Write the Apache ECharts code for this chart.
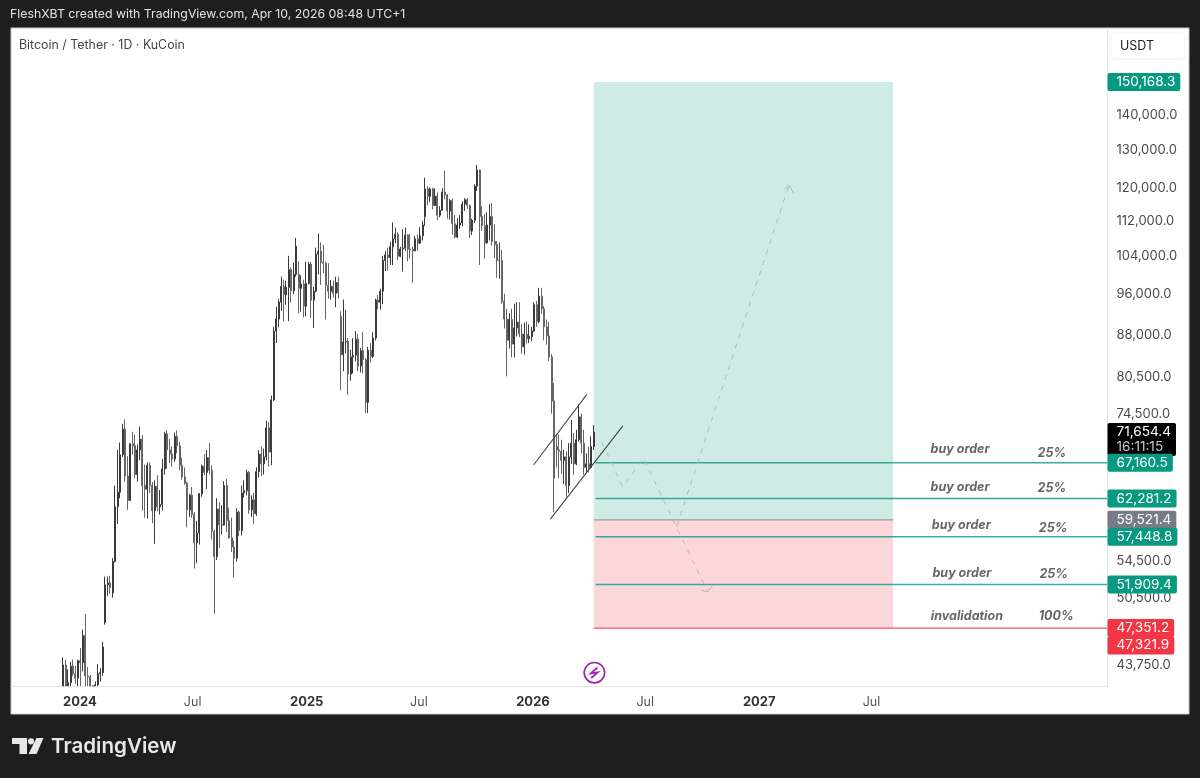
<!DOCTYPE html>
<html>
<head>
<meta charset="utf-8">
<title>Bitcoin / Tether · 1D · KuCoin</title>
<style>
html,body{margin:0;padding:0;background:#1e1e1e}
#chart{width:1200px;height:778px}
</style>
<script src="https://cdn.jsdelivr.net/npm/echarts@6/dist/echarts.min.js"></script>
</head>
<body>
<div id="chart"></div>
<script>
// BTC/USDT candles sampled every four days: [open, close, low, high]
const firstBarDate = '2023-12-05';
const barStepDays = 4;
const candles2023 = [
[41900,43800,41900,44500],[43800,41900,41900,44300],[41900,42200,41900,43400],[42200,43700,41900,44100],
[43700,43000,42800,44300],[43000,42600,42100,43700],[42600,44200,41900,44300]];
const candles2024 = [
[44200,44000,41900,45400],[44000,46600,43200,47200],[46600,42800,41900,48800],[42800,42700,41900,43600],
[42700,41900,41900,42900],[41900,41900,41900,41900],[41900,42000,41900,42300],[42000,43000,41900,43900],
[43000,43100,42300,43500],[43100,45500,42800,46000],[47900,51900,47700,52800],[51900,52100,50700,52800],
[52100,51600,50900,52900],[51000,54500,50500,54900],[54500,61200,54400,64000],[61200,63100,59000,69000],
[63100,68300,62300,70100],[68300,72100,68000,72900],[72100,65300,64500,73600],[65300,62000,60800,68100],
[62000,69900,62000,70000],[69900,69600,68300,71700],[69600,65500,65000,71300],[65500,69000,64500,69800],
[69000,70600,67500,72500],[70600,64000,60700,71200],[64000,63500,59800,66900],[63500,66800,59700,67200],
[66800,64000,63000,67200],[64000,60700,59100,64500],[60700,63900,56600,64700],[63900,61200,60600,65400],
[61200,61500,60200,63400],[61500,66300,60700,67700],[66300,71400,65500,71700],[71400,69000,66300,71900],
[69000,68400,67100,70600],[68400,67700,66600,69500],[67700,71000,67300,71600],[71000,69600,68500,71900],
[69600,66800,66100,70200],[66800,65200,64800,67900],[65200,64300,64100,66500],[64300,60800,58600,64500],
[60800,62700,59900,62900],[62700,60200,59800,63800],[60200,56700,53700,60500],[56700,57900,54300,59400],
[57900,62900,56500,63000],[62900,66700,62500,66900],[66700,65800,65400,68400],[65800,67900,63500,69000],
[67900,66100,65500,70000],[66100,58100,57100,66800],[58100,55100,48800,58300],[55100,60900,54700,62300],
[60900,58900,56100,61800],[58900,58900,57700,61400],[58900,64000,58800,64600],[64000,59400,58000,64900],
[59400,57300,57200,61100],[57300,56200,55600,59800],[56200,54900,52700,57000],[54900,60500,54500,61000],
[60500,58200,57500,60700],[58200,63000,57600,64000],[63000,63300,62400,64700],[63300,65800,62700,66200],
[65800,60800,60300,66000],[60800,62100,59900,62700],[62100,60300,59000,63000],[60300,65900,60000,66500],
[65900,68400,65100,69000],[68400,67000,65300,69500],[67000,68000,65500,69200],[68000,72300,67500,73400],
[72300,68700,66600,73200],[68700,76700,66800,77400],[76700,88700,76500,89500],[88700,91000,86500,93400],
[91000,94300,89400,94900],[94300,97500,92600,99500],[97500,95800,90600,98900],[95800,97300,93800,98700],
[97300,101000,90600,104000],[101000,96600,94200,101500],[96600,100000,95900,102500],[100000,106100,99500,108000],
[100000,97100,92100,102800],[97100,98000,92400,99800],[98000,93500,91300,98900]];
const candles2025 = [
[93500,98100,91500,102700],[98100,102200,97900,102700],[102200,94700,91200,102700],[94700,96500,89300,97400],
[96500,104400,96300,105800],[104400,105000,100000,109000],[105000,102600,97800,107000],[102600,102400,100300,106400],
[102400,97700,90900,102700],[97700,96500,95000,102400],[96500,97500,94800,98800],[97500,96100,95200,98700],
[96100,98300,93300,99500],[98300,96200,95000,99500],[91500,84400,78300,92500],[84400,86700,81500,94800],
[86700,86800,84600,92800],[86800,81000,77500,87400],[81000,84000,79900,85300],[84000,84300,81100,87400],
[84300,87200,83200,88700],[87200,82400,81500,88200],[82400,85100,81300,85600],[85100,83500,81200,88500],
[83500,76300,74600,83800],[76300,85200,74600,85800],[85200,84100,83000,86500],[84100,87400,83800,88500],
[87400,94700,87000,95000],[94700,94300,92900,95700],[94300,96500,92800,97000],[96500,103000,93900,104000],
[103000,104200,100700,105000],[104200,103600,100800,105800],[103600,106000,102000,107100],[106000,107800,102000,111600],
[107800,108900,106800,110400],[108900,103900,103100,109300],[103900,105500,103700,106000],[105500,105700,100600,110000],
[105700,108700,105100,110400],[108700,105500,102800,108900],[105500,105400,103400,108900],[105400,105100,98200,106000],
[105100,107800,105000,108500],[107800,106800,105100,108800],[106800,108500,106700,110500],[108500,111000,107400,112000],
[113000,119800,110800,122700],[119800,117900,115700,120500],[117900,119800,116500,120200],[119800,115700,114700,120100],
[115700,118000,115600,120000],[118000,113300,112200,118900],[113300,114500,112800,115500],[114500,119000,114500,120000],
[119000,118300,117200,124500],[118300,114300,112500,118500],[114300,116900,112300,117300],[116900,111300,108700,117400],
[111300,108200,107900,113400],[108200,111000,107900,112600],[111000,111500,110100,113400],[111500,116000,110700,116700],
[116000,117100,114400,117500],[117100,115700,114800,117500],[115700,109600,108000,115900],[109600,112100,108700,112500],
[112100,120500,111500,121000],[120500,124700,119300,126000],[124700,113000,102000,124800],[113000,110800,109600,115500],
[110800,106900,103400,113600],[106900,111000,106700,114000],[111000,113000,107500,116000],[113000,107200,106300,116300],
[107200,106500,103500,111200],[106500,103000,99300,107300],[103000,103000,99100,107000],[103000,94500,94000,105300],
[94500,91000,89200,96000],[91000,87000,80600,93000],[87000,90900,85500,92100],[90900,86300,83900,93000],
[86300,89300,83900,94000],[89300,90400,87700,94300],[90400,88200,87600,94300],[88200,85800,84600,90000],
[85800,88100,84400,90300],[88100,87300,86400,90500],[87300,87700,86500,90000],[87700,88700,86800,89500]];
const candles2026 = [
[88700,93800,88500,94300],[93800,90500,89500,94500],[90500,95500,90200,97200],[95500,93000,92000,97200],
[93000,89500,87000,93500],[89500,87800,86200,90900],[87800,84000,83300,90500],[84000,76500,74500,84500],
[76500,65000,60500,79500],[69500,69000,66500,71400],[69000,68800,65000,71300],[68800,67500,65600,70500],
[67500,68000,64200,69000],[68000,64000,62500,68800],[64000,68000,63000,70000],[68000,70000,67000,73500],
[70000,67000,65500,71500],[67000,70500,66800,72000],[70500,74000,70200,76000],[74000,70000,68500,74500],
[70000,66500,65500,72000],[66500,67000,65700,68500],[67000,66500,65800,69500],[66500,69500,66300,71000],
[69500,71654.4,69000,72700]];

// Time axis
const axisStart = '2023-09-12';
const axisEnd = '2028-07-15';
const timeTickDates = ['2024-01-01','2024-07-01','2025-01-01','2025-07-01','2026-01-01','2026-07-01','2027-01-01','2027-07-01'];
const timeTickLabels = ['2024','Jul','2025','Jul','2026','Jul','2027','Jul'];

// Price axis
const priceMin = 41897;
const priceMax = 168330;
const priceTicks = [140000,130000,120000,112000,104000,96000,88000,80500,74500,54500,50500,43750];

// Long position drawing
const positionStart = '2026-04-09';
const positionEnd = '2027-08-05';
const targetPrice = 150168.3;
const entryPrice = 59521.4;
const stopPrice = 47351.2;
const stopClosePrice = 47321.9;
const lastPrice = 71654.4;
const countdown = '16:11:15';

// Buy levels with their captions
const buyLevels = [67160.5, 62281.2, 57448.8, 51909.4];
const levelLineStart = '2026-04-12';

const captionTexts = ['buy order','25%','buy order','25%','buy order','25%','buy order','25%','invalidation','100%'];
const captionDates = ['2027-11-21','2028-04-17','2027-11-21','2028-04-17','2027-11-23','2028-04-19','2027-11-24','2028-04-20','2027-12-02','2028-04-24'];
const captionPrices = [69120,68550,63790,63660,58870,58510,53190,53080,48570,48570];

// Channel around the consolidation
const channelUpper = [['2026-01-02',66840],['2026-03-29',77590]];
const channelLower = [['2026-01-29',59620],['2026-05-26',72590]];

// Projected route, dashed
const routeDown = [['2026-04-22',70160],['2026-05-26',63790],['2026-06-28',67830],['2026-10-10',51100]];
const routeUp = [['2026-08-21',58740],['2027-02-18',120800]];
const routeUpHead = [['2027-02-11',119800],['2027-02-18',120800],['2027-02-25',118800]];
const routeDownHead = [['2026-09-30',51300],['2026-10-10',51100],['2026-10-18',51860]];

const FONT = 'Inter, "Noto Sans", sans-serif';
const DAY = 86400000;
const ts = s => Date.parse(s + 'T00:00:00Z');
const fmtPrice = v => v.toLocaleString('en-US', {minimumFractionDigits: 1, maximumFractionDigits: 1});
const withTime = pts => pts.map(p => [ts(p[0]), p[1]]);

const candles = candles2023.concat(candles2024, candles2025, candles2026);
const candleData = candles.map((c, i) => [ts(firstBarDate) + i * barStepDays * DAY, c[0], c[1], c[2], c[3]]);
const tickStamps = timeTickDates.map(ts);

const GREEN = '#089981', RED = '#f23645', GREY = '#787b86';

function polyline(pts, color, width, dashed) {
  return {
    type: 'line', data: withTime(pts), symbol: 'none', silent: true, z: 4, animation: false,
    lineStyle: {color: color, width: width, type: dashed ? [5, 6] : 'solid'}
  };
}

// Tags and tick captions sit on the right edge of the time scale, over the price column
function edgeLabel(price, style) {
  return {value: [ts(axisEnd), price], label: style};
}
const tag = (bg, offsetY) => ({
  show: true, position: 'right', distance: 0, formatter: p => fmtPrice(p.value[1]),
  color: '#fff', backgroundColor: bg, borderRadius: 2, padding: [3, 5, 2, 9],
  fontFamily: FONT, fontSize: 13.6, lineHeight: 13, offset: [0, offsetY || 0]
});

const tickData = priceTicks.map(v => edgeLabel(v, {
  show: true, position: 'right', distance: 9, formatter: p => fmtPrice(p.value[1]),
  color: '#4a4a4a', fontFamily: FONT, fontSize: 13
}));

const tagData = [
  edgeLabel(targetPrice, tag(GREEN)),
  edgeLabel(entryPrice, tag(GREY)),
  edgeLabel(stopClosePrice, tag(RED, 17)),
  edgeLabel(stopPrice, tag(RED)),
  {value: [ts(axisEnd), lastPrice], label: {
    show: true, position: 'right', distance: 0, offset: [0, 7.5],
    formatter: () => '{a|' + fmtPrice(lastPrice) + '}\n{b|' + countdown + '}',
    backgroundColor: '#000', borderRadius: 2, padding: [2, 5, 2, 9], fontFamily: FONT,
    rich: {
      a: {color: '#fff', fontFamily: FONT, fontSize: 13.6, lineHeight: 14.5},
      b: {color: '#c8c8c8', fontFamily: FONT, fontSize: 13.6, lineHeight: 14.5}
    }
  }}
].concat(buyLevels.map(v => edgeLabel(v, tag(GREEN))));

const captionData = captionTexts.map((t, i) => ({
  value: [ts(captionDates[i]), captionPrices[i]],
  label: {
    show: true, position: 'inside', formatter: t, color: '#666', fontFamily: FONT,
    fontStyle: 'italic', fontWeight: 700, fontSize: 12.5
  }
}));

const hiddenPoints = {type: 'scatter', symbolSize: 1, itemStyle: {color: 'rgba(0,0,0,0)', opacity: 1}, silent: true, animation: false};

const chart = echarts.init(document.getElementById('chart'), null, {renderer: 'canvas'});
chart.setOption({
  animation: false,
  backgroundColor: '#1e1e1e',
  grid: {left: 11, right: 93, top: 28, bottom: 92},
  tooltip: {show: false},
  xAxis: {
    type: 'value', min: ts(axisStart), max: ts(axisEnd),
    axisLine: {show: true, lineStyle: {color: '#e4e4e4', width: 1}},
    axisTick: {show: false}, splitLine: {show: false},
    axisLabel: {
      show: true, margin: 10,
      customValues: tickStamps,
      formatter: value => {
        const label = timeTickLabels[tickStamps.indexOf(value)];
        if (label === undefined) return '';
        return /\d/.test(label) ? '{year|' + label + '}' : '{month|' + label + '}';
      },
      rich: {
        year: {fontFamily: FONT, fontWeight: 700, fontSize: 13, color: '#333'},
        month: {fontFamily: FONT, fontSize: 12.5, color: '#555'}
      }
    }
  },
  yAxis: {
    type: 'log', logBase: 10, min: priceMin, max: priceMax, position: 'right',
    axisLine: {show: true, lineStyle: {color: '#e4e4e4', width: 1}},
    axisTick: {show: false}, splitLine: {show: false}, minorSplitLine: {show: false},
    axisLabel: {show: false}
  },
  graphic: [
    {type: 'rect', z: -5, silent: true, shape: {x: 11, y: 28, width: 1178, height: 686}, style: {fill: '#fff', stroke: '#c8c8c8', lineWidth: 1}},
    {type: 'rect', z: 10, silent: true, shape: {x: 1111, y: 33, width: 74, height: 26, r: 4}, style: {fill: '#fff', stroke: '#f0f0f0', lineWidth: 1}},
    {type: 'text', z: 11, silent: true, x: 1120, y: 46, style: {text: 'USDT', fill: '#222', font: '12.5px ' + FONT, textVerticalAlign: 'middle'}},
    {type: 'text', z: 11, silent: true, x: 10, y: 14, style: {text: 'FleshXBT created with TradingView.com, Apr 10, 2026 08:48 UTC+1', fill: '#e2e2e2', font: '12.3px ' + FONT, textVerticalAlign: 'middle'}},
    {type: 'text', z: 11, silent: true, x: 19, y: 45, style: {text: 'Bitcoin / Tether · 1D · KuCoin', fill: '#444', font: '12.4px ' + FONT, textVerticalAlign: 'middle'}},
    {type: 'circle', z: 11, silent: true, shape: {cx: 594.4, cy: 672.7, r: 10.2}, style: {fill: '#fff', stroke: '#9c27b0', lineWidth: 1.7}},
    {type: 'polyline', z: 11, silent: true, shape: {points: [[597.5, 667.5], [590.8, 673.4], [597.8, 672.4], [591.2, 678]]}, style: {fill: 'none', stroke: '#9c27b0', lineWidth: 1.8}},
    {type: 'polygon', z: 11, silent: true, shape: {points: [[12, 738], [27, 738], [27, 754], [19.5, 754], [19.5, 744], [12, 744]]}, style: {fill: '#e8e8e8'}},
    {type: 'circle', z: 11, silent: true, shape: {cx: 31, cy: 741.3, r: 3.1}, style: {fill: '#e8e8e8'}},
    {type: 'polygon', z: 11, silent: true, shape: {points: [[36.5, 738], [43.5, 738], [36.5, 754], [28.5, 754]]}, style: {fill: '#e8e8e8'}},
    {type: 'text', z: 11, silent: true, x: 51, y: 747, style: {text: 'TradingView', fill: '#e8e8e8', font: '600 20.6px ' + FONT, textVerticalAlign: 'middle'}}
  ],
  series: [
    {
      type: 'line', data: [], z: 1, silent: true, animation: false,
      markArea: {
        silent: true, animation: false,
        data: [
          [{coord: [ts(positionStart), targetPrice], itemStyle: {color: 'rgba(8,153,129,0.2)'}}, {coord: [ts(positionEnd), entryPrice]}],
          [{coord: [ts(positionStart), entryPrice], itemStyle: {color: 'rgba(242,54,69,0.2)'}}, {coord: [ts(positionEnd), stopPrice]}]
        ]
      }
    },
    {
      type: 'candlestick', data: candleData, z: 3, barWidth: 1.5, silent: true, animation: false,
      itemStyle: {color: '#262626', color0: '#444', borderColor: '#3a3a3a', borderColor0: '#666', borderWidth: 1}
    },
    polyline([[positionStart, entryPrice], [positionEnd, entryPrice]], '#9a9a9a', 1.2),
    ...buyLevels.map(v => polyline([[levelLineStart, v], [axisEnd, v]], 'rgba(8,153,129,0.8)', 1.5)),
    polyline([[positionStart, stopPrice], [axisEnd, stopPrice]], '#f0566a', 1.2),
    polyline(channelUpper, '#444', 1.1),
    polyline(channelLower, '#444', 1.1),
    polyline(routeDown, '#b4b8b8', 1, true),
    polyline(routeUp, '#b4b8b8', 1, true),
    polyline(routeUpHead, '#b4b8b8', 1),
    polyline(routeDownHead, '#b4b8b8', 1),
    Object.assign({}, hiddenPoints, {data: tickData, z: 5}),
    Object.assign({}, hiddenPoints, {data: captionData, z: 6}),
    Object.assign({}, hiddenPoints, {data: tagData, z: 7})
  ]
});
</script>
</body>
</html>
